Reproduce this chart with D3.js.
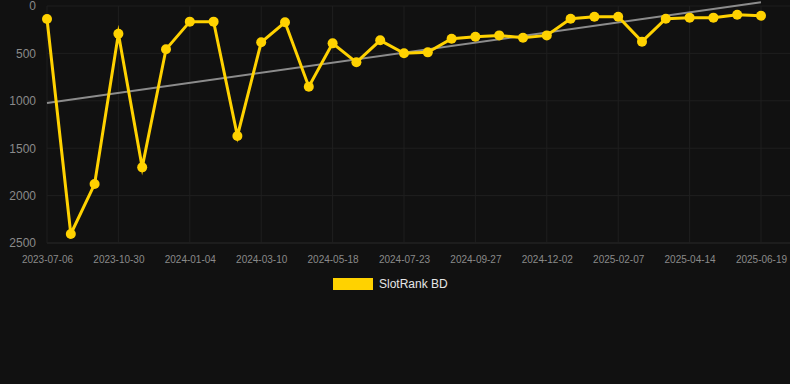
<!DOCTYPE html>
<html>
<head>
<meta charset="utf-8">
<script src="https://cdn.jsdelivr.net/npm/d3@7"></script>
<style>
  html, body { margin: 0; padding: 0; background: #111111; }
  #chart { width: 790px; height: 384px; }
  text { font-family: "Liberation Sans", Arial, sans-serif; }
</style>
</head>
<body>
<div id="chart"></div>
<script>
// Dimensions
const width = 790;
const height = 384;
const margin = { top: 6, right: 29, bottom: 141, left: 47 };
const innerWidth = width - margin.left - margin.right;
const innerHeight = height - margin.top - margin.bottom;

// Data
const dates = [
    "2023-07-06", "2023-08-13", "2023-09-21", "2023-10-30", "2023-11-21", "2023-12-13",
    "2024-01-04", "2024-01-26", "2024-02-17", "2024-03-10", "2024-04-01", "2024-04-25",
    "2024-05-18", "2024-06-09", "2024-07-01", "2024-07-23", "2024-08-14", "2024-09-05",
    "2024-09-27", "2024-10-19", "2024-11-10", "2024-12-02", "2024-12-24", "2025-01-15",
    "2025-02-07", "2025-03-01", "2025-03-23", "2025-04-14", "2025-05-06", "2025-05-28",
    "2025-06-19"
];
const ranks = [
    137, 2405, 1878, 292, 1702, 457,
    165, 165, 1371, 383, 172, 851,
    394, 594, 362, 499, 489, 345,
    324, 310, 334, 310, 134, 113,
    113, 376, 134, 123, 123, 92,
    102
];
const yTicks = [0, 500, 1000, 1500, 2000, 2500];
const seriesName = "SlotRank BD";

const data = dates.map((d, i) => ({ date: d, rank: ranks[i] }));

// Svg + inner group
const svg = d3.select("#chart")
    .append("svg")
    .attr("width", width)
    .attr("height", height);

svg.append("rect")
    .attr("width", width)
    .attr("height", height)
    .attr("fill", "#111111");

const gRoot = svg.append("g")
    .attr("transform", `translate(${margin.left}, ${margin.top})`);

// Scales (rank axis reversed: 0 on top)
const xScale = d3.scalePoint()
    .domain(dates)
    .range([0, innerWidth]);

const yScale = d3.scaleLinear()
    .domain([0, 2500])
    .range([0, innerHeight]);

const xTickValues = dates.filter((d, i) => i % 3 === 0);

// Grid
const gGrid = gRoot.append("g").attr("class", "grid");
gGrid.selectAll("line.h")
    .data(yTicks)
    .join("line")
    .attr("class", "h")
    .attr("x1", 0)
    .attr("x2", innerWidth + margin.right)
    .attr("y1", d => yScale(d))
    .attr("y2", d => yScale(d))
    .attr("stroke", d => d === 2500 ? "#2a2a2a" : "#1f1f1f")
    .attr("stroke-width", 1);

gGrid.selectAll("line.v")
    .data(xTickValues)
    .join("line")
    .attr("class", "v")
    .attr("x1", d => xScale(d))
    .attr("x2", d => xScale(d))
    .attr("y1", 0)
    .attr("y2", innerHeight)
    .attr("stroke", "#1f1f1f")
    .attr("stroke-width", 1);

// Axes
const gXAxis = gRoot.append("g")
    .attr("class", "axis-x")
    .attr("transform", `translate(0, ${innerHeight})`)
    .call(d3.axisBottom(xScale).tickValues(xTickValues).tickSize(0).tickPadding(13));

const gYAxis = gRoot.append("g")
    .attr("class", "axis-y")
    .call(d3.axisLeft(yScale).tickValues(yTicks).tickFormat(d3.format("d")).tickSize(0).tickPadding(11));

gXAxis.select(".domain").remove();
gYAxis.select(".domain").remove();
gXAxis.selectAll("text")
    .attr("fill", "#8a8a8a")
    .attr("font-size", "10px");
gYAxis.selectAll("text")
    .attr("fill", "#8a8a8a")
    .attr("font-size", "12px");

// Trend line (least squares over point index)
const n = ranks.length;
const meanI = (n - 1) / 2;
const meanV = d3.mean(ranks);
const slope = d3.sum(ranks, (v, i) => (i - meanI) * (v - meanV)) /
              d3.sum(ranks, (v, i) => (i - meanI) * (i - meanI));
const trend = [0, n - 1].map(i => ({ date: dates[i], rank: meanV + slope * (i - meanI) }));

const gChart = gRoot.append("g").attr("class", "chart");

const line = d3.line()
    .x(d => xScale(d.date))
    .y(d => yScale(d.rank));

gChart.append("path")
    .datum(trend)
    .attr("class", "trend")
    .attr("fill", "none")
    .attr("stroke", "#8c8c8c")
    .attr("stroke-width", 2)
    .attr("d", line);

gChart.append("path")
    .datum(data)
    .attr("class", "line")
    .attr("fill", "none")
    .attr("stroke", "#ffd200")
    .attr("stroke-width", 3)
    .attr("stroke-linejoin", "miter")
    .attr("stroke-miterlimit", 10)
    .attr("d", line);

gChart.selectAll("circle")
    .data(data)
    .join("circle")
    .attr("cx", d => xScale(d.date))
    .attr("cy", d => yScale(d.rank))
    .attr("r", 5)
    .attr("fill", "#ffd200");

// Legend
const gLegend = svg.append("g").attr("class", "legend")
    .attr("transform", "translate(333, 278)");
gLegend.append("rect")
    .attr("width", 40)
    .attr("height", 12)
    .attr("fill", "#ffd200");
gLegend.append("text")
    .attr("x", 46)
    .attr("y", 6)
    .attr("dy", "0.35em")
    .attr("fill", "#e6e6e6")
    .attr("font-size", "12px")
    .text(seriesName);
</script>
</body>
</html>
